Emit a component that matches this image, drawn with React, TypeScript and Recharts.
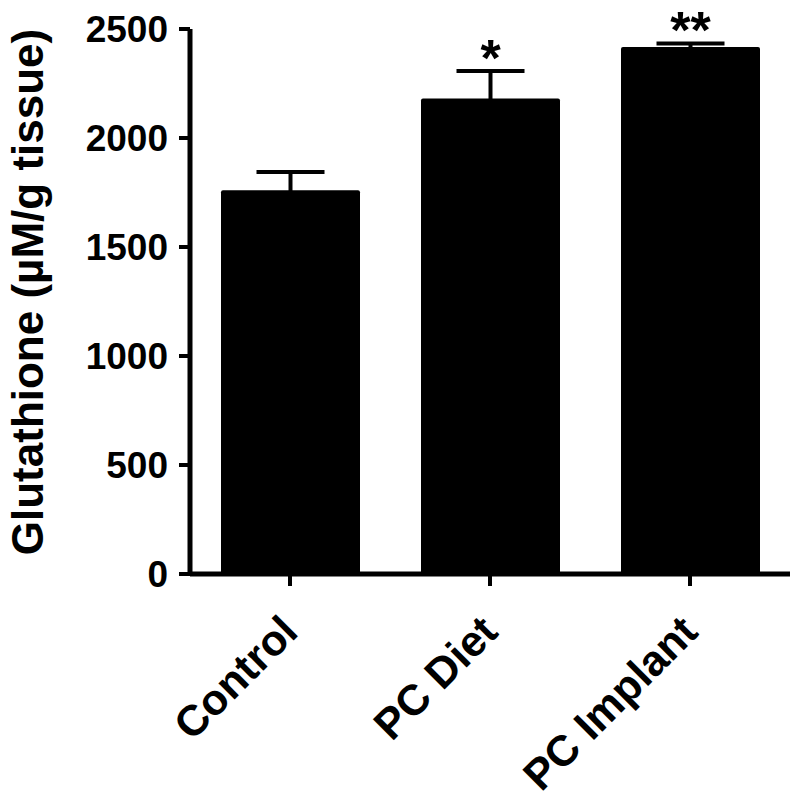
import { BarChart, Bar, XAxis, YAxis, ErrorBar, LabelList } from 'recharts'

const groups = ['Control', 'PC Diet', 'PC Implant']
const means = [1760, 2181, 2417]
const sems = [84, 126, 17]
const marks = ['', '*', '**']
const yTicks = [0, 500, 1000, 1500, 2000, 2500]

const data = groups.map((g, i) => ({ group: g, value: means[i], err: sems[i], sig: marks[i] }))

const FONT = '"Liberation Sans", Arial, Helvetica, sans-serif'

const YTick = ({ x, y, payload }: any) => (
  <text x={x} y={y} dy="0.36em" textAnchor="end" fontFamily={FONT} fontWeight="bold" fontSize={37} fill="#000">
    {payload.value}
  </text>
)

const XTick = ({ x, y, payload }: any) => (
  <g transform={`translate(${x + 10},${y})`}>
    <text textAnchor="end" transform="rotate(-45)" fontFamily={FONT} fontWeight="bold" fontSize={43} fill="#000">
      {payload.value}
    </text>
  </g>
)

// asterisks sit above the top of the error bar
const SigLabel = ({ x, y, width, height, index }: any) => {
  const txt = marks[index]
  if (!txt) return null
  const perUnit = height / means[index]
  const capY = y - sems[index] * perUnit
  return (
    <text x={x + width / 2} y={capY + 5} textAnchor="middle" fontFamily={FONT} fontWeight="bold" fontSize={52} fill="#000">
      {txt}
    </text>
  )
}

export default function App() {
  return (
    <div style={{ position: 'absolute', left: 0, top: 0, background: '#fff' }}>
      <BarChart width={800} height={806} data={data} margin={{ top: 29, right: 10, bottom: 0, left: 0 }}>
        <XAxis
          dataKey="group"
          height={232}
          axisLine={{ stroke: '#000', strokeWidth: 5 }}
          tickLine={{ stroke: '#000', strokeWidth: 4 }}
          tickSize={12}
          tickMargin={48}
          tick={<XTick />}
          interval={0}
        />
        <YAxis
          width={190}
          domain={[0, 2500]}
          ticks={yTicks}
          axisLine={{ stroke: '#000', strokeWidth: 5 }}
          tickLine={{ stroke: '#000', strokeWidth: 4 }}
          tickSize={11}
          tickMargin={11}
          tick={<YTick />}
          interval={0}
        />
        <text
          x={43}
          y={292}
          transform="rotate(-90, 43, 292)"
          textAnchor="middle"
          fontFamily={FONT}
          fontWeight="bold"
          fontSize={44}
          fill="#000"
        >
          Glutathione (µM/g tissue)
        </text>
        <Bar dataKey="value" fill="#000" barSize={139} radius={2} isAnimationActive={false}>
          <ErrorBar dataKey="err" direction="y" width={34} stroke="#000" strokeWidth={4} />
          <LabelList dataKey="sig" content={<SigLabel />} />
        </Bar>
      </BarChart>
    </div>
  )
}
